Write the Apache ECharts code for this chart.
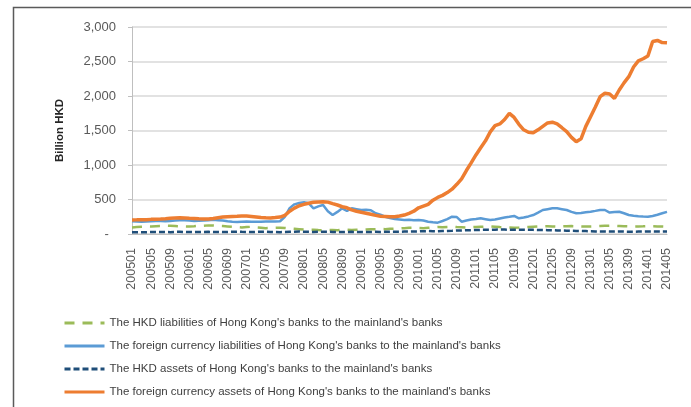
<!DOCTYPE html>
<html>
<head>
<meta charset="utf-8">
<script src="https://cdn.jsdelivr.net/npm/echarts@6/dist/echarts.min.js"></script>
<style>html,body{margin:0;padding:0;background:#fff;}#c{width:691px;height:407px;}</style>
</head>
<body>
<div id="c"></div>
<script>
// Months 2005/01 .. 2014/05
const categories = [];
for (let y = 2005; y <= 2014; y++) {
  for (let m = 1; m <= 12; m++) {
    if (y === 2014 && m > 5) break;
    categories.push(String(y) + (m < 10 ? '0' : '') + m);
  }
}

const seriesNames = [
  "The HKD liabilities of Hong Kong's banks to the mainland's banks",
  "The foreign currency liabilities of Hong Kong's banks to the mainland's banks",
  "The HKD assets of Hong Kong's banks to the mainland's banks",
  "The foreign currency assets of Hong Kong's banks to the mainland's banks"
];

const hkdLiabilities = [
  95, 100, 105, 110, 108, 112, 115, 120, 118, 115, 112, 110,
  108, 112, 118, 120, 125, 122, 118, 115, 110, 105, 100, 95,
  100, 105, 95, 90, 85, 88, 90, 92, 88, 80, 75, 70,
  65, 60, 62, 58, 55, 60, 58, 55, 60, 62, 58, 60,
  62, 65, 68, 70, 72, 70, 75, 78, 80, 85, 90, 92,
  88, 85, 90, 95, 100, 98, 102, 105, 100, 98, 95, 100,
  102, 105, 108, 110, 105, 100, 98, 95, 92, 95, 100, 102,
  105, 108, 110, 112, 110, 108, 110, 112, 115, 112, 110, 108,
  110, 112, 115, 118, 120, 118, 115, 112, 110, 108, 110, 112,
  115, 112, 110, 108, 105
];

const fcLiabilities = [
  185, 180, 178, 182, 185, 190, 188, 185, 190, 195, 200, 198,
  195, 190, 192, 195, 200, 205, 200, 195, 185, 178, 175, 178,
  180, 178, 176, 178, 180, 180, 182, 185, 250, 375, 430, 450,
  460, 445, 372, 400, 420, 330, 275, 320, 372, 333, 372, 360,
  348, 350, 345, 300, 280, 250, 230, 217, 210, 203, 205, 200,
  203, 195, 178, 170, 164, 188, 215, 251, 245, 178, 195, 210,
  217, 227, 215, 203, 210, 225, 240, 250, 261, 227, 240, 255,
  275, 310, 348, 360, 372, 372, 360, 348, 320, 300, 305, 315,
  323, 335, 348, 348, 310, 318, 323, 300, 275, 265, 258, 252,
  250, 262, 280, 300, 320
];

const hkdAssets = [
  25, 26, 27, 25, 28, 30, 29, 28, 27, 30, 32, 30,
  28, 27, 29, 30, 31, 30, 29, 28, 30, 32, 33, 31,
  30, 29, 31, 32, 33, 30, 28, 27, 29, 31, 33, 35,
  34, 32, 30, 31, 33, 32, 30, 29, 28, 30, 31, 30,
  29, 28, 30, 31, 30, 32, 33, 34, 33, 35, 36, 38,
  38, 40, 42, 41, 40, 43, 45, 47, 50, 52, 55, 56,
  58, 60, 62, 60, 63, 65, 64, 62, 60, 61, 63, 62,
  60, 58, 57, 56, 55, 52, 50, 48, 46, 45, 44, 42,
  40, 38, 37, 36, 35, 36, 37, 35, 34, 33, 35, 36,
  37, 38, 36, 35, 36
];

const fcAssets = [
  203, 205, 208, 206, 212, 215, 218, 222, 228, 232, 236, 233,
  228, 225, 220, 218, 217, 225, 235, 245, 250, 255, 258, 262,
  260, 255, 248, 240, 235, 232, 238, 245, 270, 330, 375, 410,
  430, 445, 460, 465, 468, 462, 440, 420, 395, 380, 350, 330,
  315, 300, 285, 270, 258, 255, 250, 250, 262, 275, 300, 330,
  380, 405, 430, 490, 530, 560, 600, 650, 720, 800, 920, 1030,
  1146, 1250, 1350, 1480, 1570, 1595, 1660, 1749, 1690, 1590, 1510, 1475,
  1468, 1510, 1560, 1610, 1620, 1595, 1540, 1483, 1400, 1338, 1380, 1560,
  1700, 1840, 1990, 2040, 2030, 1966, 2087, 2190, 2280, 2420, 2510, 2540,
  2580, 2790, 2805, 2775, 2770
];

const yTicks = [0, 500, 1000, 1500, 2000, 2500, 3000];

const FONT = "'Liberation Sans', Arial, sans-serif";
const chart = echarts.init(document.getElementById('c'));

function mk(name, data, color, width, type, z) {
  return {
    name: name, type: 'line', data: data, symbol: 'none', showSymbol: false,
    smooth: false, z: z,
    lineStyle: { color: color, width: width, type: type },
    itemStyle: { color: color }
  };
}

chart.setOption({
  animation: false,
  backgroundColor: '#ffffff',
  textStyle: { fontFamily: FONT },
  graphic: [{
    type: 'rect', z: -10,
    shape: { x: 13.5, y: 7.5, width: 700, height: 420 },
    style: { fill: 'none', stroke: '#5a5a5a', lineWidth: 1.5 }
  }],
  grid: { left: 132, top: 27, right: 24, bottom: 173 },
  legend: {
    orient: 'vertical', left: 63, top: 317, padding: 0,
    itemWidth: 40, itemHeight: 12, itemGap: 11,
    itemStyle: { opacity: 0 },
    lineStyle: { width: 3 },
    textStyle: { fontFamily: FONT, fontSize: 11.5, color: '#404040' },
    data: seriesNames
  },
  xAxis: {
    type: 'category', data: categories, boundaryGap: false,
    axisLine: { lineStyle: { color: '#bfbfbf' } },
    axisTick: { show: false },
    axisLabel: {
      rotate: 90, interval: 3, margin: 14, fontSize: 12.5,
      color: '#595959', fontFamily: FONT
    },
    splitLine: { show: false }
  },
  yAxis: {
    type: 'value', min: yTicks[0], max: yTicks[yTicks.length - 1], interval: 500,
    name: 'Billion HKD', nameLocation: 'middle', nameGap: 66, nameRotate: 90,
    nameTextStyle: { fontFamily: FONT, fontSize: 11.5, fontWeight: 'bold', color: '#262626' },
    axisLine: { show: true, lineStyle: { color: '#bfbfbf' } },
    axisTick: { show: true, length: 4, lineStyle: { color: '#bfbfbf' } },
    axisLabel: {
      margin: 16, fontSize: 13, color: '#595959', fontFamily: FONT,
      formatter: function (v) { return v === 0 ? '-  ' : v.toLocaleString('en-US'); }
    },
    splitLine: { lineStyle: { color: '#d9d9d9', width: 1.5 } }
  },
  series: [
    mk(seriesNames[0], hkdLiabilities, '#9bbb59', 2.5, [10, 8], 2),
    mk(seriesNames[1], fcLiabilities, '#5b9bd5', 2.5, 'solid', 3),
    mk(seriesNames[2], hkdAssets, '#1f4e79', 2.5, [6, 3], 4),
    mk(seriesNames[3], fcAssets, '#ed7d31', 3.5, 'solid', 5)
  ]
});
</script>
</body>
</html>
